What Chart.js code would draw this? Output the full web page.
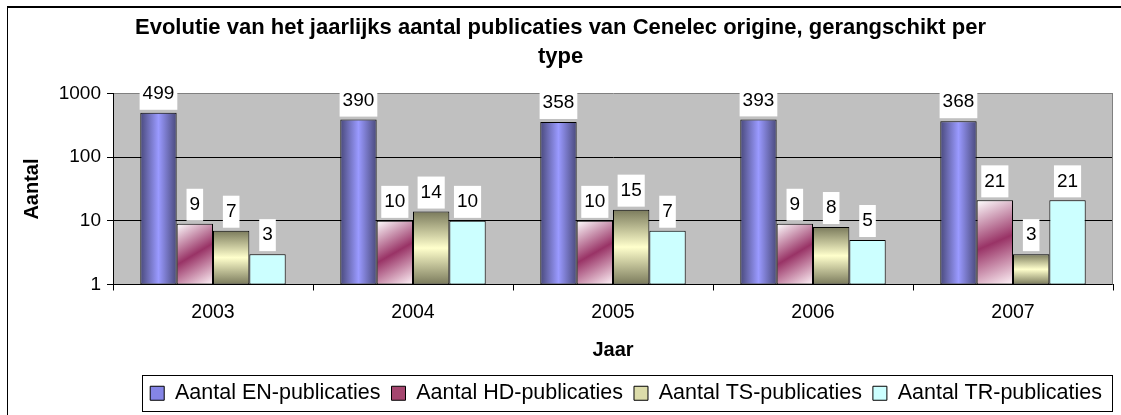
<!DOCTYPE html>
<html>
<head>
<meta charset="utf-8">
<script src="https://cdn.jsdelivr.net/npm/chart.js@4/dist/chart.umd.min.js"></script>
<style>
  html, body { margin: 0; padding: 0; background: #fff; }
  #wrap { position: relative; width: 1121px; height: 415px; }
</style>
</head>
<body>
<div id="wrap"><canvas id="chart"></canvas></div>
<script>
// Gegevens
const jaren = ["2003", "2004", "2005", "2006", "2007"];
const reeksNamen = [
	"Aantal EN-publicaties",
	"Aantal HD-publicaties",
	"Aantal TS-publicaties",
	"Aantal TR-publicaties",
];
const enPublicaties = [499, 390, 358, 393, 368];
const hdPublicaties = [9, 10, 10, 9, 21];
const tsPublicaties = [7, 14, 15, 8, 3];
const trPublicaties = [3, 10, 7, 5, 21];
const yTicks = [1, 10, 100, 1000];
const legendaKleuren = ["#8585e6", "#a5466f", "#dcdcaa", "#ccffff"];

const titel = [
	"Evolutie van het jaarlijks aantal publicaties van Cenelec origine, gerangschikt per",
	"type",
];

const FONT = "'Liberation Sans', Arial, sans-serif";
const CAT_PCT = 0.727;

Chart.defaults.font.family = FONT;
Chart.defaults.color = "#000";

// Geometrie van een staaf (alleen voor het kleurverloop)
const staafVak = (ctx) => {
	const chart = ctx.chart;
	const xs = chart.scales.x;
	const ys = chart.scales.y;
	if (ctx.type !== "data" || !xs || !ys || !chart.chartArea) return null;
	const catW = xs.width / jaren.length;
	const groepW = catW * CAT_PCT;
	const staafW = groepW / reeksNamen.length;
	const links = xs.getPixelForValue(ctx.dataIndex) - groepW / 2 + ctx.datasetIndex * staafW;
	const boven = ys.getPixelForValue(ctx.raw);
	return { links, rechts: links + staafW, boven, onder: chart.chartArea.bottom };
};

const kleurEN = (ctx) => {
	const v = staafVak(ctx);
	if (!v) return legendaKleuren[0];
	const g = ctx.chart.ctx.createLinearGradient(v.links, 0, v.rechts, 0);
	g.addColorStop(0, "#4a4a7c");
	g.addColorStop(0.5, "#9a9aff");
	g.addColorStop(1, "#4a4a7c");
	return g;
};

const kleurHD = (ctx) => {
	const v = staafVak(ctx);
	if (!v) return legendaKleuren[1];
	const g = ctx.chart.ctx.createLinearGradient(v.links, v.boven, v.rechts, v.onder);
	g.addColorStop(0, "#ffffff");
	g.addColorStop(0.5, "#993366");
	g.addColorStop(1, "#fff4f8");
	return g;
};

const kleurTS = (ctx) => {
	const v = staafVak(ctx);
	if (!v) return legendaKleuren[2];
	const g = ctx.chart.ctx.createLinearGradient(0, v.boven, 0, v.onder);
	g.addColorStop(0, "#7a7a5c");
	g.addColorStop(0.5, "#ffffcc");
	g.addColorStop(1, "#7a7a5c");
	return g;
};

// Achtergrond, kaders en gegevenslabels
const tekenPlugin = {
	id: "tekenPlugin",
	beforeDraw(chart) {
		const { ctx, chartArea: a } = chart;
		ctx.save();
		ctx.fillStyle = "#c0c0c0";
		ctx.fillRect(a.left, a.top, a.right - a.left, a.bottom - a.top);
		// buitenkader
		ctx.fillStyle = "#000";
		ctx.fillRect(7, 6, chart.width - 7, 2);
		ctx.fillRect(7, 6, 1, chart.height - 6);
		ctx.restore();
	},
	beforeDatasetsDraw(chart) {
		const { ctx, chartArea: a } = chart;
		ctx.save();
		ctx.strokeStyle = "#808080";
		ctx.lineWidth = 1;
		ctx.beginPath();
		ctx.moveTo(Math.round(a.right) - 0.5, a.top);
		ctx.lineTo(Math.round(a.right) - 0.5, a.bottom);
		ctx.stroke();
		ctx.restore();
	},
	afterDatasetsDraw(chart) {
		const { ctx } = chart;
		ctx.save();
		ctx.font = "19px " + FONT;
		ctx.textAlign = "center";
		ctx.textBaseline = "middle";
		chart.data.datasets.forEach((ds, di) => {
			const meta = chart.getDatasetMeta(di);
			meta.data.forEach((el, i) => {
				const tekst = String(ds.data[i]);
				const tw = ctx.measureText(tekst).width;
				const bw = tw + 6;
				ctx.fillStyle = "#fff";
				ctx.fillRect(el.x - bw / 2, el.y - 35, bw, 32);
				ctx.fillStyle = "#000";
				ctx.fillText(tekst, el.x, el.y - 19);
			});
		});
		ctx.restore();
	},
	afterDraw(chart) {
		const hits = chart.legend && chart.legend.legendHitBoxes;
		if (!hits || !hits.length) return;
		const { ctx } = chart;
		const eerste = hits[0];
		const laatste = hits[hits.length - 1];
		const midden = eerste.top + eerste.height / 2;
		ctx.save();
		ctx.strokeStyle = "#000";
		ctx.lineWidth = 1;
		const l = Math.round(eerste.left - 8) + 0.5;
		const r = Math.round(laatste.left + laatste.width + 10) + 0.5;
		const t = Math.round(midden - 18) + 0.5;
		ctx.strokeRect(l, t, r - l, 36);
		ctx.restore();
	},
};

const maakDataset = (label, data, kleur) => ({
	label,
	data,
	backgroundColor: kleur,
	borderColor: "#000",
	borderWidth: 1,
	borderSkipped: false,
	categoryPercentage: CAT_PCT,
	barPercentage: 1,
});

new Chart(document.getElementById("chart"), {
	type: "bar",
	data: {
		labels: jaren,
		datasets: [
			maakDataset(reeksNamen[0], enPublicaties, kleurEN),
			maakDataset(reeksNamen[1], hdPublicaties, kleurHD),
			maakDataset(reeksNamen[2], tsPublicaties, kleurTS),
			maakDataset(reeksNamen[3], trPublicaties, "#ccffff"),
		],
	},
	options: {
		responsive: true,
		maintainAspectRatio: false,
		animation: false,
		layout: { padding: { left: 8, right: 8, top: 0, bottom: 1 } },
		plugins: {
			title: {
				display: true,
				text: titel,
				color: "#000",
				font: { size: 22, weight: "bold", lineHeight: 1.32 },
				padding: { top: 13.5, bottom: 22 },
			},
			legend: {
				position: "bottom",
				align: "end",
				labels: {
					color: "#000",
					font: { size: 21.5 },
					boxWidth: 14,
					boxHeight: 14,
					padding: 11,
					generateLabels: (chart) => {
						const items = Chart.defaults.plugins.legend.labels.generateLabels(chart);
						items.forEach((it, i) => {
							it.fillStyle = legendaKleuren[i];
							it.strokeStyle = "#000";
							it.lineWidth = 1;
						});
						return items;
					},
				},
			},
			tooltip: { enabled: false },
		},
		scales: {
			x: {
				offset: true,
				afterFit: (s) => { s.height = 87; },
				grid: {
					offset: true,
					drawOnChartArea: false,
					drawTicks: true,
					tickLength: 6,
					color: "#000",
				},
				border: { color: "#000", width: 1 },
				ticks: { font: { size: 19.5 }, color: "#000", padding: 10 },
				title: {
					display: true,
					text: "Jaar",
					color: "#000",
					font: { size: 20, weight: "bold" },
					padding: { top: 0, bottom: 9 },
				},
			},
			y: {
				type: "logarithmic",
				min: 1,
				max: 1000,
				afterFit: (s) => { s.width = 105; },
				afterBuildTicks: (s) => { s.ticks = yTicks.map((v) => ({ value: v })); },
				grid: {
					color: (c) => (c.tick && c.tick.value === 1000 ? "#808080" : "#000"),
					tickColor: "#000",
					drawTicks: true,
					tickLength: 6,
				},
				border: { color: "#000", width: 1 },
				ticks: {
					font: { size: 19 },
					color: "#000",
					padding: 6,
					callback: (v) => String(v),
				},
				title: {
					display: true,
					text: "Aantal",
					color: "#000",
					font: { size: 20, weight: "bold" },
					padding: { top: 12.5, bottom: 0 },
				},
			},
		},
	},
	plugins: [tekenPlugin],
});
</script>
</body>
</html>
